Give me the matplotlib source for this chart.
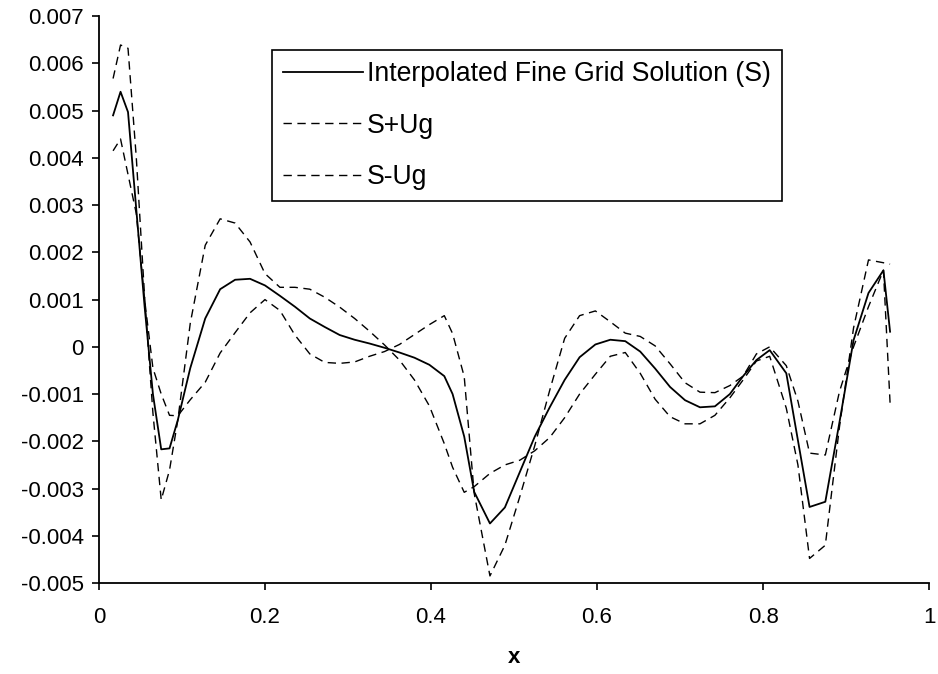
import numpy as np
from matplotlib import pyplot as plt

plt.rcParams['font.family'] = ['Liberation Sans', 'DejaVu Sans']

# grid points along x
xs = [0.017, 0.026, 0.035, 0.045, 0.055, 0.065, 0.075, 0.085, 0.095, 0.110,
      0.128, 0.146, 0.164, 0.182, 0.200, 0.218, 0.236, 0.254, 0.272, 0.290,
      0.308, 0.326, 0.344, 0.362, 0.380, 0.398, 0.416, 0.426, 0.440, 0.452,
      0.471, 0.489, 0.507, 0.525, 0.543, 0.561, 0.579, 0.598, 0.616, 0.634,
      0.652, 0.670, 0.688, 0.706, 0.724, 0.742, 0.760, 0.776, 0.792, 0.808,
      0.828, 0.842, 0.856, 0.875, 0.892, 0.909, 0.927, 0.945, 0.953]

# values in units of 1e-3
s_fine = [4.90, 5.40, 4.97, 2.90, 0.85, -1.00, -2.17, -2.15, -1.55, -0.45,
          0.60, 1.22, 1.42, 1.44, 1.30, 1.08, 0.85, 0.60, 0.42, 0.25,
          0.15, 0.07, -0.02, -0.12, -0.23, -0.38, -0.62, -1.00, -1.90, -3.07,
          -3.74, -3.40, -2.65, -1.90, -1.28, -0.70, -0.22, 0.05, 0.15, 0.12,
          -0.10, -0.46, -0.85, -1.13, -1.28, -1.26, -1.00, -0.62, -0.28, -0.07,
          -0.56, -1.98, -3.39, -3.28, -1.60, 0.14, 1.14, 1.62, 0.32]

s_plus = [5.68, 6.39, 6.32, 4.00, 1.06, -1.40, -3.24, -2.61, -1.55, 0.50,
          2.15, 2.71, 2.62, 2.22, 1.55, 1.26, 1.26, 1.22, 1.05, 0.84,
          0.60, 0.33, 0.04, -0.28, -0.70, -1.25, -2.05, -2.55, -3.08, -2.96,
          -2.68, -2.50, -2.40, -2.20, -1.92, -1.50, -1.00, -0.58, -0.20, -0.12,
          -0.56, -1.11, -1.48, -1.63, -1.63, -1.45, -1.08, -0.70, -0.30, -0.20,
          -1.30, -2.50, -4.48, -4.20, -1.70, 0.40, 1.84, 1.78, 1.75]

s_minus = [4.15, 4.40, 3.65, 2.82, 1.00, -0.45, -1.00, -1.45, -1.46, -1.12,
           -0.75, -0.13, 0.30, 0.72, 1.00, 0.77, 0.25, -0.15, -0.33, -0.35,
           -0.32, -0.20, -0.10, 0.05, 0.26, 0.47, 0.66, 0.28, -0.63, -3.10,
           -4.85, -4.20, -3.17, -2.09, -0.92, 0.18, 0.66, 0.76, 0.53, 0.29,
           0.22, 0.02, -0.36, -0.76, -0.96, -0.97, -0.82, -0.62, -0.15, 0.00,
           -0.40, -1.15, -2.25, -2.29, -0.95, 0.00, 0.85, 1.62, -1.19]

yticks = [-0.005, -0.004, -0.003, -0.002, -0.001, 0, 0.001, 0.002, 0.003,
          0.004, 0.005, 0.006, 0.007]
xticks = [0, 0.2, 0.4, 0.6, 0.8, 1]
xtick_labels = ['0', '0.2', '0.4', '0.6', '0.8', '1']

fig = plt.figure(figsize=(9.38, 6.74), dpi=100)
ax = fig.add_axes([0.1055, 0.135, 0.885, 0.841])

x = np.array(xs)
ax.plot(x, np.array(s_fine) * 1e-3, color='black', lw=1.3,
        label='Interpolated Fine Grid Solution (S)')
ax.plot(x, np.array(s_plus) * 1e-3, color='black', lw=1.0,
        dashes=(6, 4), label='S+Ug')
ax.plot(x, np.array(s_minus) * 1e-3, color='black', lw=1.0,
        dashes=(6, 4), label='S-Ug')

ax.set_xlim(0, 1)
ax.set_ylim(-0.005, 0.007)
ax.set_yticks(yticks)
ax.set_yticklabels([f'{v:g}' for v in yticks])
ax.set_xticks(xticks)
ax.set_xticklabels(xtick_labels)

for side in ['top', 'right']:
    ax.spines[side].set_visible(False)
for side in ['left', 'bottom']:
    ax.spines[side].set_linewidth(1.3)

ax.tick_params(axis='both', direction='out', length=5, width=1.2,
               labelsize=16, colors='black')
ax.tick_params(axis='x', pad=12)
ax.tick_params(axis='y', pad=6)
ax.set_xlabel('x', fontsize=16, fontweight='bold', labelpad=14)

leg = ax.legend(loc='upper left', bbox_to_anchor=(0.208, 0.940),
                borderaxespad=0, fontsize=19.2, handlelength=3.0,
                handletextpad=0.15, labelspacing=0.95, borderpad=0.42,
                fancybox=False, framealpha=1, edgecolor='black')
leg.get_frame().set_linewidth(1.2)

fig.savefig('out.png', dpi=100)
